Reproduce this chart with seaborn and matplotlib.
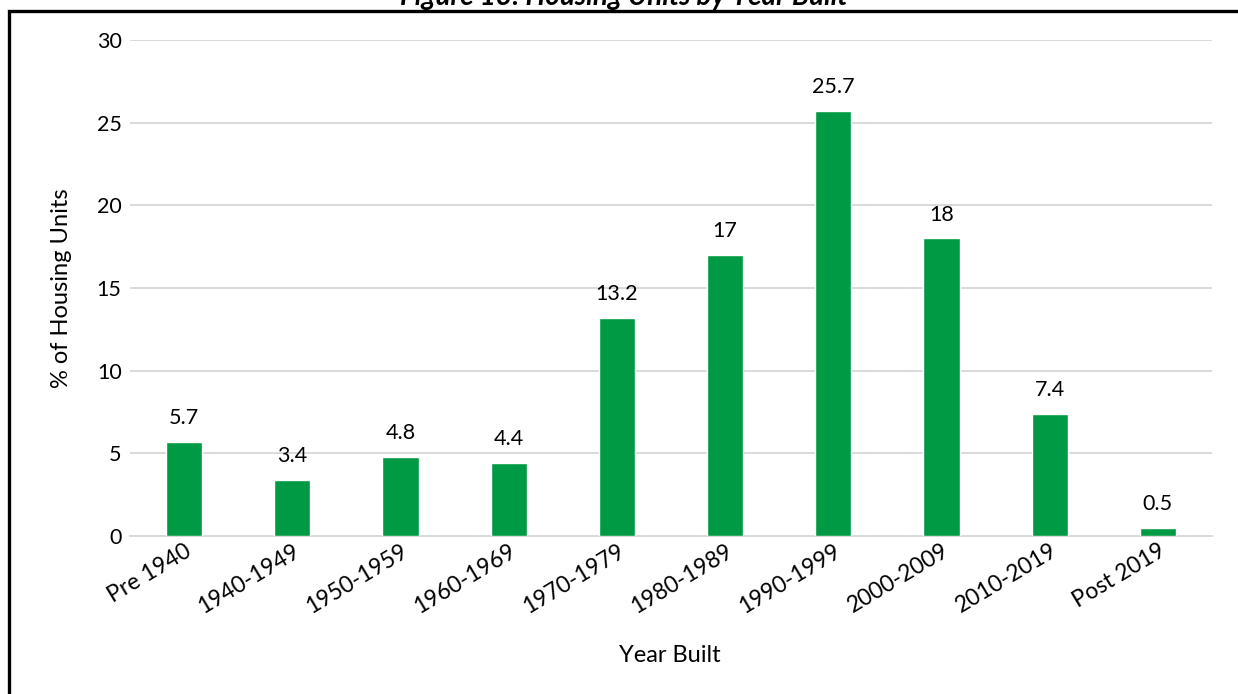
import matplotlib
matplotlib.use("Agg")
import matplotlib.pyplot as plt
import seaborn as sns
import pandas as pd
from matplotlib.patches import Rectangle

categories = ["Pre 1940", "1940-1949", "1950-1959", "1960-1969", "1970-1979",
              "1980-1989", "1990-1999", "2000-2009", "2010-2019", "Post 2019"]
values = [5.7, 3.4, 4.8, 4.4, 13.2, 17, 25.7, 18, 7.4, 0.5]
value_labels = ["5.7", "3.4", "4.8", "4.4", "13.2", "17", "25.7", "18", "7.4", "0.5"]
y_ticks = [0, 5, 10, 15, 20, 25, 30]

df = pd.DataFrame({"Year Built": categories, "Share": values})

sns.set_theme(style="white")
plt.rcParams["font.family"] = ["Lato", "DejaVu Sans"]

fig = plt.figure(figsize=(12.38, 6.94), dpi=100)
W, H = 1238, 694
ax = fig.add_axes([130 / W, 1 - 536 / H, (1212 - 130) / W, (536 - 40) / H])

green = "#009A44"
sns.barplot(data=df, x="Year Built", y="Share", color=green, width=0.333,
            saturation=1, ax=ax, zorder=3)

ax.set_ylim(0, 30)
ax.set_yticks(y_ticks)
ax.set_yticklabels([str(t) for t in y_ticks], fontsize=15.5, color="black")
ax.yaxis.grid(True, color="#d9d9d9", linewidth=1.4, zorder=0)
ax.set_axisbelow(True)
ax.tick_params(axis="y", length=0, pad=6)
ax.tick_params(axis="x", length=0, pad=3)
for s in ["top", "right", "left"]:
    ax.spines[s].set_visible(False)
ax.spines["bottom"].set_color("#d9d9d9")
ax.spines["bottom"].set_linewidth(1.4)

ax.set_xticks(range(len(categories)))
ax.set_xticklabels(categories, rotation=31, ha="right", rotation_mode="anchor",
                   fontsize=16.5, color="black")

for i, (v, lab) in enumerate(zip(values, value_labels)):
    ax.annotate(lab, (i, v), xytext=(0, 10), textcoords="offset points",
                ha="center", va="bottom", fontsize=15.5, color="black")

ax.set_xlabel("Year Built", fontsize=17, color="black")
ax.set_ylabel("% of Housing Units", fontsize=17, color="black")
ax.xaxis.set_label_coords((670 - 130) / (1212 - 130), -(655 - 536) / (536 - 40))
ax.yaxis.set_label_coords(-(130 - 62) / (1212 - 130), 0.5)
ax.xaxis.label.set_va("center")
ax.yaxis.label.set_va("center")

# frame around the figure panel
fig.patches.append(Rectangle((9 / W, -0.05), 1.1, 1 - 10.5 / H + 0.05,
                             transform=fig.transFigure, fill=False,
                             edgecolor="black", linewidth=2.4))
fig.text(624 / W, 1 - 5 / H, "Figure 13: Housing Units by Year Built",
         ha="center", va="baseline", fontsize=20, fontweight="bold",
         fontstyle="italic", color="black")

fig.savefig("out.png", dpi=100)
